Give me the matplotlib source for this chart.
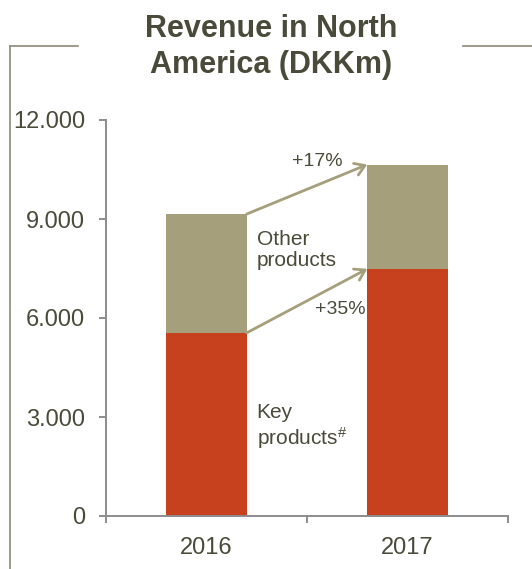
import matplotlib
matplotlib.use("Agg")
import matplotlib.pyplot as plt
from matplotlib.lines import Line2D

# revenue in DKKm
years = ["2016", "2017"]
key_products = [5550, 7490]
other_products = [3600, 3160]
growth_total = "+17%"
growth_key = "+35%"
y_ticks = [0, 3000, 6000, 9000, 12000]
y_tick_labels = ["0", "3.000", "6.000", "9.000", "12.000"]

RED = "#c8411f"
OLIVE = "#a59f7b"
TEXT = "#4a4a3a"
AXIS = "#8c8c8c"

plt.rcParams["font.family"] = ["Liberation Sans", "DejaVu Sans"]
plt.rcParams["mathtext.default"] = "regular"

fig = plt.figure(figsize=(5.32, 5.69), dpi=100)
ax = fig.add_axes([106 / 532, 1 - 516 / 569, 402 / 532, 396 / 569])

x = list(range(len(years)))
width = 0.40
ax.bar(x, key_products, width, color=RED)
totals = [k + o for k, o in zip(key_products, other_products)]
ax.bar(x, other_products, width, bottom=key_products, color=OLIVE)

ax.set_xlim(-0.5, len(years) - 0.5)
ax.set_ylim(0, 12000)
ax.set_yticks(y_ticks)
ax.set_yticklabels(y_tick_labels)
ax.set_xticks(x)
ax.set_xticklabels(years)
ax.set_xticks([-0.5, 0.5, 1.5], minor=True)

for side in ["top", "right"]:
    ax.spines[side].set_visible(False)
for side in ["left", "bottom"]:
    ax.spines[side].set_color(AXIS)
    ax.spines[side].set_linewidth(1.4)

ax.tick_params(axis="y", length=5, width=1.4, color=AXIS, pad=10,
               labelsize=17, labelcolor=TEXT)
ax.tick_params(axis="x", which="major", length=0, pad=15,
               labelsize=17, labelcolor=TEXT)
ax.tick_params(axis="x", which="minor", length=5, width=1.4, color=AXIS)

# growth arrows between the bar tops
arrow = dict(arrowstyle="->,head_length=0.7,head_width=0.45", color=OLIVE,
             lw=2.0, shrinkA=0, shrinkB=0)
ax.annotate("", xy=(1 - width / 2, totals[1]), xytext=(width / 2, totals[0]),
            arrowprops=arrow)
ax.annotate("", xy=(1 - width / 2, key_products[1]),
            xytext=(width / 2, key_products[0]), arrowprops=arrow)

ax.text(0.55, totals[1] + 80, growth_total, ha="center", va="center",
        fontsize=14, color=TEXT)
ax.text(1 - width / 2 - 0.01, 6270, growth_key, ha="right", va="center",
        fontsize=14, color=TEXT)
ax.text(width / 2 + 0.05, 8050, "Other\nproducts", ha="left", va="center",
        fontsize=15, color=TEXT, linespacing=1.15)
ax.text(width / 2 + 0.05, 2700, "Key\nproducts$^{\\#}$", ha="left",
        va="center", fontsize=15, color=TEXT, linespacing=1.15)

fig.text(271 / 532, 1 - 47 / 569, "Revenue in North\nAmerica (DKKm)",
         ha="center", va="center", fontsize=22, fontweight="bold",
         color=TEXT, linespacing=1.25)

# frame bracket around the panel
frame = "#8c8a78"
y_top = 1 - 46 / 569
fig.add_artist(Line2D([10 / 532, 10 / 532], [y_top, 0], color=frame, lw=1.2))
fig.add_artist(Line2D([10 / 532, 78 / 532], [y_top, y_top], color=frame, lw=1.2))
fig.add_artist(Line2D([463 / 532, 1], [y_top, y_top], color=frame, lw=1.2))

fig.savefig("out.png", dpi=100)
